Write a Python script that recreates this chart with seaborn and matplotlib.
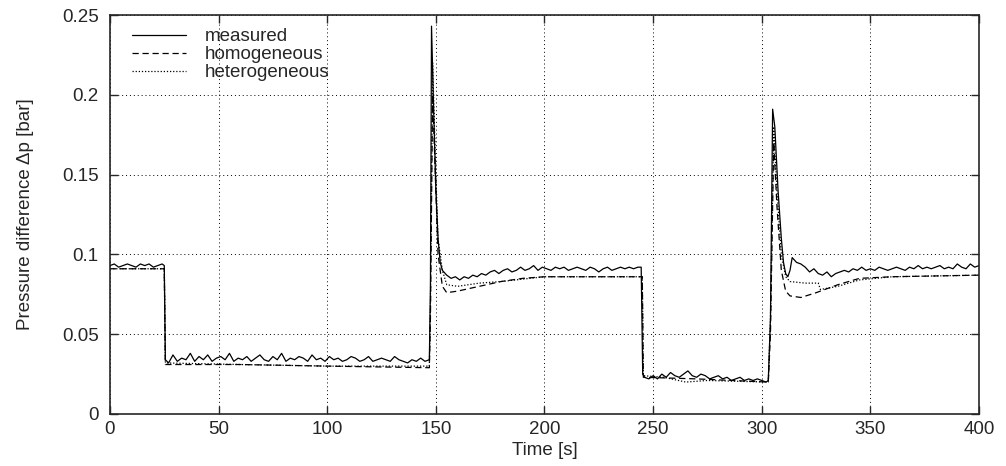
import numpy as np
import pandas as pd
import seaborn as sns
import matplotlib.pyplot as plt
from matplotlib.ticker import FormatStrFormatter

# measured signal (hand)
meas_t = np.concatenate([
    np.arange(0, 25, 2), [25.0, 25.5], np.arange(27, 148, 2),
    [147.5, 148, 149, 150, 151, 152, 153, 155, 157, 159, 161, 163, 165, 167, 169, 171, 173],
    np.arange(175, 244, 2), [244.5, 245.2], np.arange(246, 303, 2),
    [303, 304, 305, 306, 307.5, 309, 310, 311, 312, 313, 314, 316, 318, 320, 322, 324,
     326, 328, 330, 332, 334, 336],
    np.arange(338, 401, 2),
])
meas_v = [
    0.093, 0.094, 0.092, 0.093, 0.094, 0.093, 0.092, 0.094, 0.093, 0.094, 0.092, 0.093, 0.094,
    0.093, 0.034,
    0.032, 0.037, 0.033, 0.035, 0.034, 0.038, 0.033, 0.036, 0.034, 0.037,
    0.033, 0.035, 0.036, 0.034, 0.038, 0.033, 0.035, 0.034, 0.036, 0.033,
    0.035, 0.037, 0.034, 0.033, 0.036, 0.034, 0.038, 0.033, 0.035, 0.034,
    0.036, 0.035, 0.033, 0.037, 0.034, 0.035, 0.033, 0.036, 0.034, 0.035,
    0.033, 0.034, 0.036, 0.035, 0.033, 0.034, 0.036, 0.033, 0.034, 0.035,
    0.034, 0.033, 0.036, 0.034, 0.033, 0.032, 0.034, 0.033, 0.035, 0.033, 0.034,
    0.080, 0.243, 0.190, 0.140, 0.110, 0.095, 0.090, 0.087, 0.085, 0.086, 0.084, 0.086,
    0.085, 0.087, 0.086, 0.088, 0.087,
    0.089, 0.090, 0.088, 0.090, 0.091, 0.089, 0.090, 0.092, 0.090, 0.091,
    0.093, 0.090, 0.092, 0.091, 0.090, 0.092, 0.091, 0.092, 0.090, 0.091,
    0.092, 0.091, 0.090, 0.092, 0.091, 0.089, 0.091, 0.092, 0.090, 0.091,
    0.092, 0.091, 0.092, 0.091, 0.092,
    0.092, 0.025,
    0.023, 0.022, 0.024, 0.022, 0.025, 0.023, 0.026, 0.024, 0.023, 0.025,
    0.027, 0.024, 0.023, 0.025, 0.024, 0.022, 0.023, 0.024, 0.022, 0.023,
    0.021, 0.022, 0.023, 0.021, 0.022, 0.021, 0.022, 0.021, 0.020,
    0.021, 0.060, 0.191, 0.180, 0.140, 0.110, 0.095, 0.088, 0.086, 0.090, 0.098,
    0.095, 0.094, 0.092, 0.089, 0.091, 0.088, 0.087, 0.089, 0.086, 0.088, 0.089,
    0.090, 0.089, 0.091, 0.090, 0.092, 0.090, 0.091, 0.090, 0.092, 0.091,
    0.090, 0.091, 0.092, 0.091, 0.090, 0.092, 0.091, 0.093, 0.091, 0.092,
    0.091, 0.092, 0.093, 0.091, 0.092, 0.091, 0.094, 0.092, 0.091, 0.094,
    0.092, 0.093,
]

homo_t = [0, 25, 25.5, 60, 100, 147, 147.5, 148.5, 150, 151, 153, 155, 160, 170, 180,
          190, 200, 245, 245.5, 270, 303, 304, 305.5, 307, 309, 311, 313, 318, 325, 335,
          345, 360, 400]
homo_v = [0.091, 0.091, 0.031, 0.031, 0.030, 0.029, 0.060, 0.200, 0.140, 0.100, 0.080,
          0.076, 0.077, 0.080, 0.083, 0.085, 0.086, 0.086, 0.023, 0.022, 0.020, 0.050,
          0.170, 0.130, 0.090, 0.077, 0.074, 0.073, 0.076, 0.081, 0.085, 0.086, 0.087]

hetero_t = [0, 25, 25.5, 60, 100, 147, 147.5, 148.5, 150, 151, 153, 155, 160, 165, 170,
            180, 200, 245, 245.5, 255, 265, 275, 303, 304, 305.5, 307, 309, 311, 313, 320,
            326, 327, 335, 345, 360, 400]
hetero_v = [0.091, 0.091, 0.032, 0.031, 0.030, 0.030, 0.070, 0.220, 0.150, 0.110, 0.090,
            0.081, 0.080, 0.081, 0.082, 0.083, 0.086, 0.086, 0.024, 0.023, 0.020, 0.021,
            0.020, 0.060, 0.180, 0.140, 0.100, 0.086, 0.083, 0.082, 0.082, 0.078, 0.080,
            0.084, 0.086, 0.087]


def main():
    sns.set_style("ticks")
    plt.rcParams['font.family'] = ['Liberation Sans', 'DejaVu Sans']
    fig = plt.figure(figsize=(10.06, 4.66), dpi=100)
    ax = fig.add_axes([0.1093, 0.1116, 0.8639, 0.8562])

    sns.lineplot(x=meas_t, y=meas_v, ax=ax, color='black', lw=0.9,
                 linestyle='-', label='measured')
    sns.lineplot(x=homo_t, y=homo_v, ax=ax, color='black', lw=0.9,
                 linestyle=(0, (5, 3)), label='homogeneous')
    sns.lineplot(x=hetero_t, y=hetero_v, ax=ax, color='black', lw=0.9,
                 linestyle=(0, (1, 1.5)), label='heterogeneous')

    ax.set_xlim(0, 400)
    ax.set_ylim(0, 0.25)
    ax.set_xticks(np.arange(0, 401, 50))
    ax.set_yticks([0, 0.05, 0.1, 0.15, 0.2, 0.25])
    ax.yaxis.set_major_formatter(FormatStrFormatter('%g'))
    ax.grid(True, color='black', linestyle=(0, (1, 3)), lw=0.7)
    ax.tick_params(direction='in', top=True, right=True, labelsize=13.5, length=6, width=1)
    ax.tick_params(axis='y', pad=8)
    ax.tick_params(axis='x', pad=5)
    for s in ax.spines.values():
        s.set_linewidth(1.2)
        s.set_visible(True)
    ax.set_xlabel('Time [s]', fontsize=13.5, labelpad=3)
    ax.set_ylabel('Pressure difference Δp [bar]', fontsize=13.5, labelpad=20)
    ax.legend(loc='upper left', frameon=False, fontsize=13.5, handlelength=2.9,
              handletextpad=1.0, labelspacing=0.05, borderaxespad=0.3,
              bbox_to_anchor=(0.01, 1.0))
    fig.savefig('out.png', dpi=100)


if __name__ == '__main__':
    main()
